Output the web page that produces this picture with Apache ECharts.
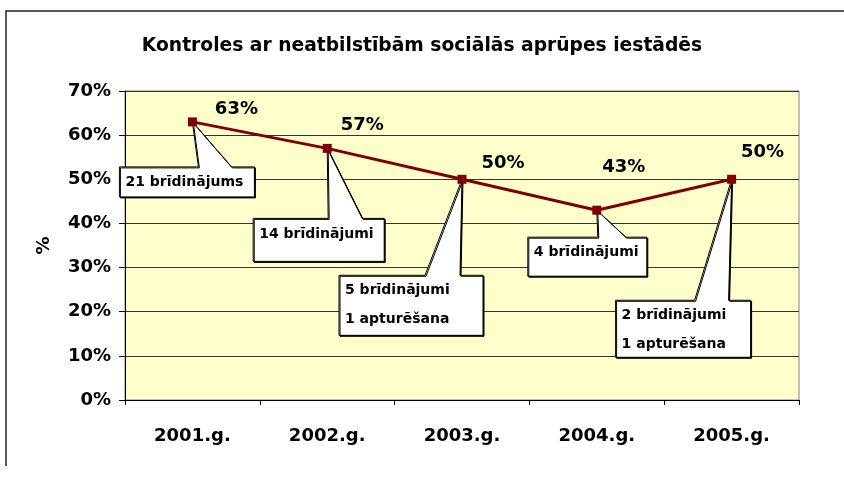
<!DOCTYPE html>
<html>
<head>
<meta charset="utf-8">
<script src="https://cdn.jsdelivr.net/npm/echarts@6/dist/echarts.min.js"></script>
<style>
  html, body { margin: 0; padding: 0; background: #fff; }
  #chart { width: 844px; height: 481px; }
</style>
</head>
<body>
<div id="chart"></div>
<script>
// dati
const years = ['2001.g.', '2002.g.', '2003.g.', '2004.g.', '2005.g.']
const shares = [63, 57, 50, 43, 50]
const calloutTexts = [
  '21 brīdinājums',
  '14 brīdinājumi',
  '5 brīdinājumi\n1 apturēšana',
  '4 brīdinājumi',
  '2 brīdinājumi\n1 apturēšana'
]
const yTicks = [0, 10, 20, 30, 40, 50, 60, 70]

// izkārtojums: vērtību etiķešu nobīdes un izsaukumu kastes attiecībā pret punktu
const labelOffsets = [[44, 1], [35, -10], [41, -2], [27, -29], [31, -13]]
const calloutBoxes = [
  { l: -73, r: 62, t: 45, b: 75, w0: 6, w1: 39 },
  { l: -74, r: 57, t: 70, b: 113, w0: 1, w1: 35 },
  { l: -123, r: 21, t: 96, b: 156, w0: -37, w1: -2 },
  { l: -69, r: 50, t: 27, b: 66, w0: 1, w1: 29 },
  { l: -116, r: 19, t: 121, b: 178, w0: -37, w1: -3 }
]

const FONT = 'DejaVu Sans'
const chart = echarts.init(document.getElementById('chart'))

function renderCallout(params, api) {
  const idx = params.dataIndex
  const p = api.coord([api.value(0), api.value(1)])
  const o = calloutBoxes[idx]
  const x0 = p[0] + o.l, x1 = p[0] + o.r
  const y0 = p[1] + o.t, y1 = p[1] + o.b
  const points = [
    [x0, y0], [p[0] + o.w0, y0], [p[0], p[1]], [p[0] + o.w1, y0],
    [x1, y0], [x1, y1], [x0, y1]
  ]
  return {
    type: 'group',
    children: [
      {
        type: 'polygon',
        shape: { points },
        style: {
          fill: '#fff', stroke: '#000', lineWidth: 1,
          shadowColor: '#000', shadowOffsetX: 1, shadowOffsetY: 1, shadowBlur: 0
        }
      },
      {
        type: 'text',
        x: x0 + 6,
        y: y0 + 1,
        style: {
          text: calloutTexts[idx],
          fill: '#000',
          fontFamily: FONT,
          fontWeight: 'bold',
          fontSize: 14,
          lineHeight: 29,
          verticalAlign: 'top'
        }
      }
    ]
  }
}

const option = {
  animation: false,
  title: {
    text: 'Kontroles ar neatbilstībām sociālās aprūpes iestādēs',
    left: 'center',
    top: 32,
    textStyle: { fontFamily: FONT, fontWeight: 'bold', fontSize: 18.7, color: '#000' }
  },
  graphic: [
    {
      type: 'polyline',
      shape: { points: [[6, 466], [6, 11], [844, 11]] },
      style: { stroke: '#222', lineWidth: 1.5, fill: null }
    }
  ],
  grid: {
    left: 125, right: 45, top: 91, bottom: 81,
    show: true,
    backgroundColor: '#FFFFCC',
    borderColor: '#808080',
    borderWidth: 1
  },
  xAxis: {
    type: 'category',
    data: years,
    boundaryGap: true,
    axisLine: { lineStyle: { color: '#000', width: 1 } },
    axisTick: { show: true, length: 5, lineStyle: { color: '#000' } },
    axisLabel: { margin: 27, color: '#000', fontFamily: FONT, fontWeight: 'bold', fontSize: 18 }
  },
  yAxis: {
    type: 'value',
    min: yTicks[0],
    max: yTicks[yTicks.length - 1],
    interval: 10,
    name: '%',
    nameLocation: 'middle',
    nameGap: 72,
    nameRotate: 90,
    nameTextStyle: { color: '#000', fontFamily: FONT, fontWeight: 'bold', fontSize: 18 },
    axisLine: { show: true, lineStyle: { color: '#000', width: 1 } },
    axisTick: { show: true, length: 6, lineStyle: { color: '#000' } },
    axisLabel: {
      margin: 14, color: '#000', fontFamily: FONT, fontWeight: 'bold', fontSize: 18,
      formatter: '{value}%'
    },
    splitLine: { show: true, lineStyle: { color: '#333', width: 1 } }
  },
  series: [
    {
      type: 'custom',
      z: 1,
      clip: false,
      renderItem: renderCallout,
      data: shares.map((v, i) => [i, v]),
      silent: true
    },
    {
      type: 'line',
      z: 3,
      data: shares.map((v, i) => ({
        value: v,
        label: { offset: labelOffsets[i] }
      })),
      symbol: 'rect',
      symbolSize: 9,
      lineStyle: { color: '#800000', width: 3 },
      itemStyle: { color: '#800000' },
      label: {
        show: true,
        position: 'top',
        distance: 0,
        formatter: '{c}%',
        color: '#000',
        fontFamily: FONT,
        fontWeight: 'bold',
        fontSize: 18
      }
    }
  ]
}

chart.setOption(option)
</script>
</body>
</html>
